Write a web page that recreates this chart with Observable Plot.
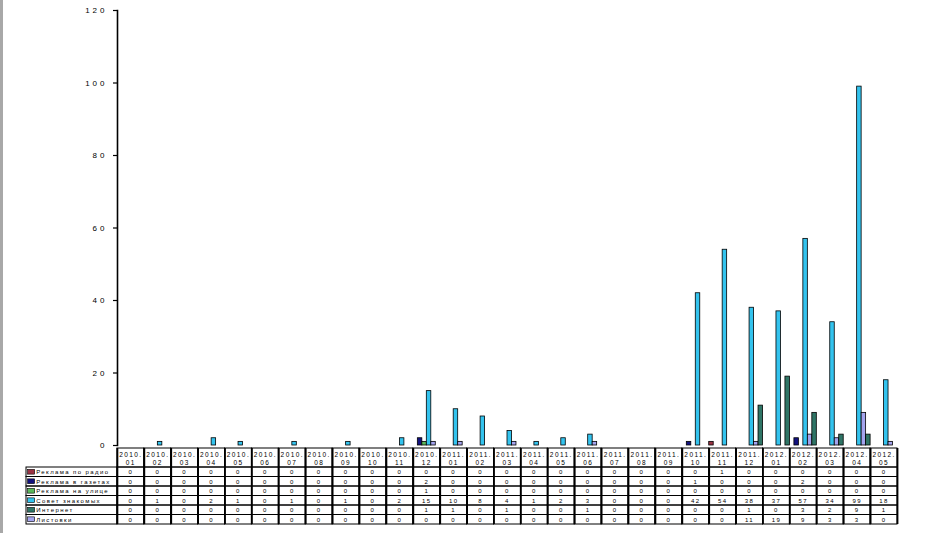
<!DOCTYPE html>
<html><head><meta charset="utf-8">
<script src="https://cdn.jsdelivr.net/npm/d3@7"></script>
<script src="https://cdn.jsdelivr.net/npm/@observablehq/plot@0.6"></script>
<style>
body{margin:0;background:#fff;}
#wrap{position:relative;width:929px;height:533px;overflow:hidden;background:#fff}
#wrap::before{content:"";position:absolute;left:0;top:0;width:3px;height:533px;background:#a8a8a8;z-index:2}
#chart svg,#table svg{display:block}
#chart{position:relative;z-index:1}
#chart svg{overflow:visible}
#chart text{letter-spacing:3px}
#table text{letter-spacing:1.4px}
</style></head><body><div id="wrap"><div id="chart"></div><div id="table"></div></div>
<script>
const months = ["2010.01","2010.02","2010.03","2010.04","2010.05","2010.06","2010.07","2010.08","2010.09","2010.10","2010.11","2010.12",
"2011.01","2011.02","2011.03","2011.04","2011.05","2011.06","2011.07","2011.08","2011.09","2011.10","2011.11","2011.12",
"2012.01","2012.02","2012.03","2012.04","2012.05"];
const seriesNames = ["Реклама по радио","Реклама в газетах","Реклама на улице","Совет знакомых","Интернет","Листовки"];
const radio    = [0,0,0,0,0,0,0,0,0,0,0,0, 0,0,0,0,0,0,0,0,0,0,1,0, 0,0,0,0,0];
const gazety   = [0,0,0,0,0,0,0,0,0,0,0,2, 0,0,0,0,0,0,0,0,0,1,0,0, 0,2,0,0,0];
const ulica    = [0,0,0,0,0,0,0,0,0,0,0,1, 0,0,0,0,0,0,0,0,0,0,0,0, 0,0,0,0,0];
const sovet    = [0,1,0,2,1,0,1,0,1,0,2,15, 10,8,4,1,2,3,0,0,0,42,54,38, 37,57,34,99,18];
const internet = [0,0,0,0,0,0,0,0,0,0,0,1, 1,0,1,0,0,1,0,0,0,0,0,1, 0,3,2,9,1];
const listovki = [0,0,0,0,0,0,0,0,0,0,0,0, 0,0,0,0,0,0,0,0,0,0,0,11, 19,9,3,3,0];
const values = [radio, gazety, ulica, sovet, internet, listovki];
const yTicks = [0,20,40,60,80,100,120];
// colours as seen on the bars and in the table's key (the original's key swaps the last two)
const barColors = ["#9a3344","#12127f","#5cb85c","#33c3ee","#a4a4ee","#2f7566"];
const keyColors = ["#9a3344","#12127f","#5cb85c","#33c3ee","#2f7566","#a4a4ee"];

const font = '"Liberation Sans", Arial, sans-serif';

const bars = months.flatMap((m,i)=>seriesNames.map((s,j)=>({key:m+"|"+s, month:m, series:s, value:values[j][i]})));
const keys = bars.map(d=>d.key);

const chart = Plot.plot({
  width:929, height:447, marginTop:10, marginBottom:2, marginLeft:117, marginRight:32,
  style:{fontFamily:font, fontSize:"8px", background:"transparent", overflow:"visible"},
  x:{type:"band", domain:keys, padding:0, axis:null},
  y:{domain:[0,120], axis:null, label:null},
  color:{domain:seriesNames, range:barColors},
  marks:[
    Plot.barY(bars.filter(d=>d.value>0), {x:"key", y:"value", fill:"series", stroke:"#000", strokeWidth:0.8}),
    Plot.axisY(yTicks, {anchor:"left", label:null, tickSize:4, tickPadding:6, fontSize:8, stroke:"#000", strokeWidth:1.2}),
    Plot.frame({anchor:"left", stroke:"#000", strokeWidth:1.6})
  ]
});
document.getElementById("chart").append(chart);

const L = 3.38;
const headerCells = months.map((m,i)=>({i, r0:0, r1:2, text:m.replace(".", ".\n")}));
const valueCells = months.flatMap((m,i)=>seriesNames.map((s,j)=>({i, r0:2+j, r1:3+j, text:String(values[j][i])})));
const keyRows = seriesNames.map((s,j)=>({s, r0:2+j, r1:3+j, color:keyColors[j]}));

const table = Plot.plot({
  width:929, height:86, marginTop:1, marginBottom:9, marginLeft:26, marginRight:32,
  style:{fontFamily:font, fontSize:"6px", background:"transparent"},
  x:{domain:[-L, months.length], axis:null},
  y:{domain:[0,8], reverse:true, axis:null},
  color:{type:"identity"},
  marks:[
    Plot.rect(headerCells, {x1:"i", x2:d=>d.i+1, y1:"r0", y2:"r1", stroke:"#000", strokeWidth:1, fill:"none"}),
    Plot.rect(valueCells, {x1:"i", x2:d=>d.i+1, y1:"r0", y2:"r1", stroke:"#000", strokeWidth:1, fill:"none"}),
    Plot.rect(keyRows, {x1:-L, x2:0, y1:"r0", y2:"r1", stroke:"#000", strokeWidth:1, fill:"none"}),
    Plot.ruleX(d3.range(months.length+1), {y1:0, y2:8, stroke:"#000", strokeWidth:1.8}),
    Plot.text(headerCells, {x:d=>d.i+0.5, y:d=>(d.r0+d.r1)/2, text:"text", lineHeight:1.25, fontSize:6.5, fill:"#000"}),
    Plot.text(valueCells, {x:d=>d.i+0.5, y:d=>(d.r0+d.r1)/2, text:"text", fontSize:6, fill:"#000"}),
    Plot.rect(keyRows, {x1:-L+0.06, x2:-L+0.32, y1:d=>d.r0+0.25, y2:d=>d.r1-0.25, fill:"color", stroke:"#000", strokeWidth:0.6}),
    Plot.text(keyRows, {x:-L+0.36, y:d=>(d.r0+d.r1)/2, text:"s", textAnchor:"start", fontSize:6, fill:"#000"})
  ]
});
document.getElementById("table").append(table);
</script></body></html>
